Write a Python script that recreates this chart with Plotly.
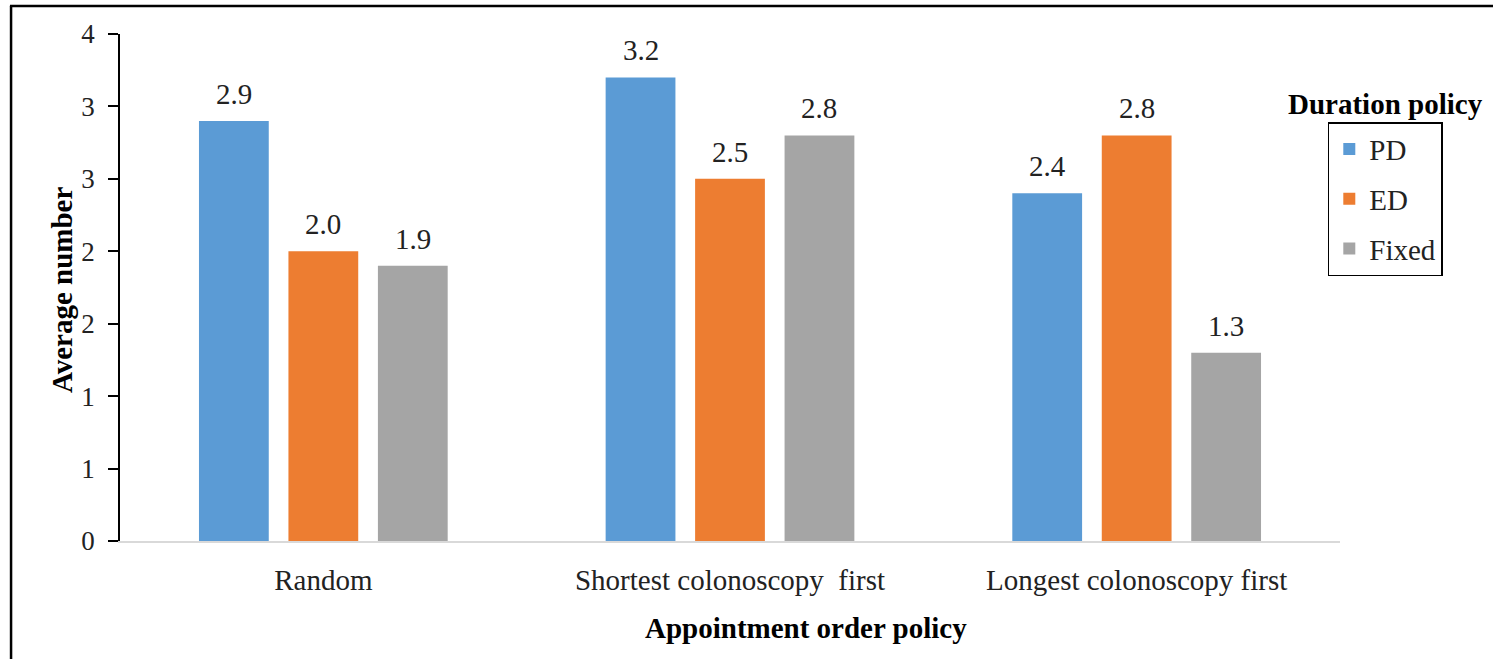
import plotly.graph_objects as go

# Appointment order policies (x categories)
categories = ["Random", "Shortest colonoscopy  first", "Longest colonoscopy first"]

# Average number per duration policy
pd_values = [2.9, 3.2, 2.4]
ed_values = [2.0, 2.5, 2.8]
fixed_values = [1.9, 2.8, 1.3]

series_names = ["PD", "ED", "Fixed"]
series_values = [pd_values, ed_values, fixed_values]
series_colors = ["#5b9bd5", "#ed7d31", "#a5a5a5"]

# y ticks every 0.5, shown rounded to whole numbers
y_tickvals = [0, 0.5, 1.0, 1.5, 2.0, 2.5, 3.0, 3.5]
y_ticktext = ["0", "1", "1", "2", "2", "3", "3", "4"]

FONT = "Liberation Serif, Times New Roman, serif"
BARGAP = 0.34
BARGROUPGAP = 0.22

fig = go.Figure()
for k, (name, vals, col) in enumerate(zip(series_names, series_values, series_colors)):
    fig.add_trace(go.Bar(
        x=categories, y=vals, name=name,
        marker=dict(color=col, line=dict(width=0)),
        legendgroup=name,
    ))

# value labels above each bar
n = len(series_names)
slot = (1 - BARGAP) / n
for k, vals in enumerate(series_values):
    for i, v in enumerate(vals):
        fig.add_annotation(
            x=i + (k - (n - 1) / 2) * slot, y=v, xref="x", yref="y",
            text=f"{v:.1f}", showarrow=False, yanchor="bottom", yshift=9,
            font=dict(family=FONT, size=29, color="#222"),
        )

fig.update_layout(
    width=1493, height=659,
    margin=dict(l=120, r=153, t=34, b=118),
    paper_bgcolor="white", plot_bgcolor="white",
    barmode="group", bargap=BARGAP, bargroupgap=BARGROUPGAP,
    font=dict(family=FONT, size=29, color="#222"),
    showlegend=True,
    legend=dict(
        x=0.99, y=0.826, xanchor="left", yanchor="top",
        bordercolor="black", borderwidth=1.5,
        font=dict(family=FONT, size=29, color="#222"),
        tracegroupgap=9, itemsizing="constant",
    ),
    xaxis=dict(
        showline=True, linecolor="#d9d9d9", linewidth=1.5,
        ticks="outside", ticklen=12, tickcolor="rgba(0,0,0,0)",
        tickfont=dict(family=FONT, size=29, color="#222"),
        showgrid=False, zeroline=False,
    ),
    yaxis=dict(
        range=[0, 3.5], tickvals=y_tickvals, ticktext=y_ticktext,
        showline=True, linecolor="black", linewidth=1.5,
        ticks="outside", ticklen=10, tickcolor="black", tickwidth=1.5,
        ticklabelstandoff=8,
        tickfont=dict(family=FONT, size=27, color="#222"),
        showgrid=False, zeroline=False,
    ),
)

# axis titles and legend heading
fig.add_annotation(
    x=-0.0475, y=0.495, xref="paper", yref="paper", textangle=-90,
    xanchor="center", yanchor="middle",
    text="<b>Average number</b>", showarrow=False,
    font=dict(family=FONT, size=29, color="black"),
)
fig.add_annotation(
    x=0.5623, y=-0.1716, xref="paper", yref="paper",
    xanchor="center", yanchor="middle",
    text="<b>Appointment order policy</b>", showarrow=False,
    font=dict(family=FONT, size=29, color="black"),
)
fig.add_annotation(
    x=1.0377, y=0.862, xref="paper", yref="paper",
    xanchor="center", yanchor="middle",
    text="<b>Duration policy</b>", showarrow=False,
    font=dict(family=FONT, size=29, color="black"),
)

# outer frame on the top and left edges
fig.add_shape(type="line", xref="paper", yref="paper",
              x0=-0.0902, x1=1.2, y0=1.0552, y1=1.0552,
              line=dict(color="black", width=2.5))
fig.add_shape(type="line", xref="paper", yref="paper",
              x0=-0.0893, x1=-0.0893, y0=1.0552, y1=-0.3,
              line=dict(color="black", width=2.5))

fig.write_html("out.html")
